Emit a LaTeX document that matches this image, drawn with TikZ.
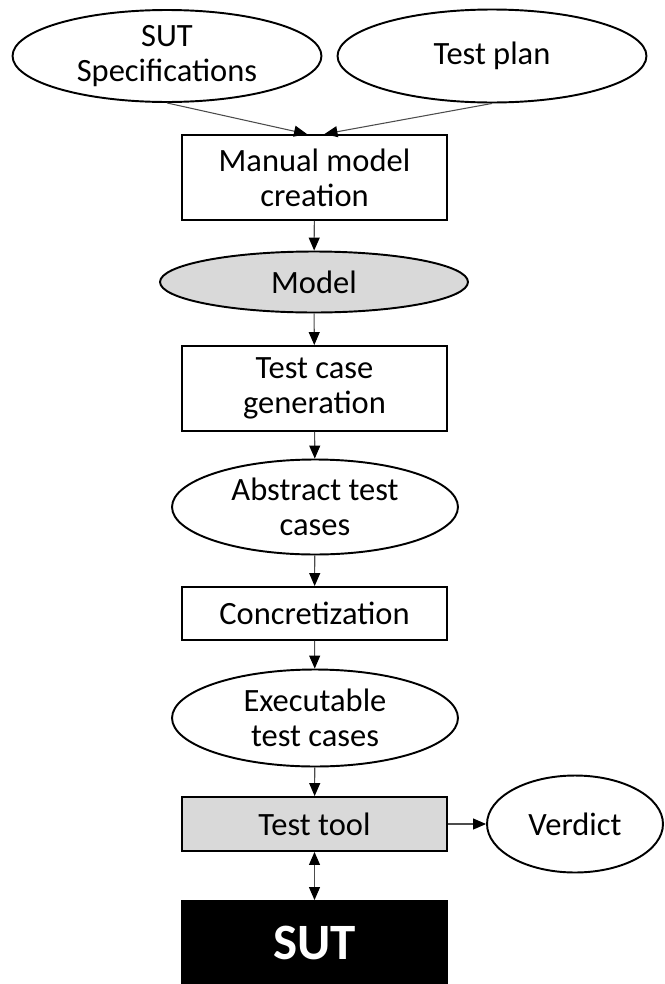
\documentclass[tikz,border=0pt]{standalone}
\usepackage{fontspec}
\setmainfont{Carlito}
\usetikzlibrary{shapes.geometric,arrows.meta}
\definecolor{shade}{gray}{0.85}
\begin{document}
\begin{tikzpicture}[x=0.02cm,y=-0.02cm,
        every node/.style={font=\fontsize{18.5}{20}\selectfont, align=center, inner sep=0pt},
        stage/.style={draw, rectangle, line width=1.1pt, minimum width=5.3cm},
        artefact/.style={draw, ellipse, line width=1.1pt},
        flow/.style={-{Triangle[length=0.26cm,width=0.22cm,color=black]}, black!70, line width=0.6pt},
        dflow/.style={{Triangle[length=0.26cm,width=0.22cm,color=black]}-{Triangle[length=0.26cm,width=0.22cm,color=black]}, black!70, line width=0.6pt}]
    \useasboundingbox (0,0) rectangle (665,984);
    % inputs
    \node[artefact, minimum width=6.18cm, minimum height=1.84cm] (spec) at (167,56) {SUT\\Specifications};
    \node[artefact, minimum width=6.18cm, minimum height=1.86cm] (plan) at (492,56) {Test plan};
    % main chain
    \node[stage, minimum height=1.7cm] (manual) at (314.5,177.5) {Manual model\\creation};
    \node[artefact, fill=shade, minimum width=6.16cm, minimum height=1.22cm] (model) at (314,282) {Model};
    \node[stage, minimum height=1.7cm] (gen) at (314.5,388.5) {Test case\\generation};
    \node[artefact, minimum width=5.72cm, minimum height=1.9cm] (abstract) at (315,507) {Abstract test\\cases};
    \node[stage, minimum height=1.06cm] (concr) at (314.5,613.5) {Concretization};
    \node[artefact, minimum width=5.72cm, minimum height=1.94cm] (exec) at (315,718) {Executable\\test cases};
    \node[stage, fill=shade, minimum height=1.08cm] (tool) at (314.5,824) {Test tool};
    \node[artefact, minimum width=3.52cm, minimum height=1.94cm] (verdict) at (575,824) {Verdict};
    \node[stage, fill=black, text=white, minimum height=1.68cm, font=\fontsize{29}{30}\selectfont\bfseries] (sut) at (314.5,943) {SUT};
    % connectors
    \draw[flow] (spec.south) -- ([xshift=-0.15cm]manual.north);
    \draw[flow] (plan.south) -- ([xshift=0.2cm]manual.north);
    \draw[flow] (manual) -- (model);
    \draw[flow] (model) -- (gen);
    \draw[flow] (gen) -- (abstract);
    \draw[flow] (abstract) -- (concr);
    \draw[flow] (concr) -- (exec);
    \draw[flow] (exec) -- (tool);
    \draw[flow] (tool) -- (verdict);
    \draw[dflow] (tool) -- (sut);
\end{tikzpicture}
\end{document}
